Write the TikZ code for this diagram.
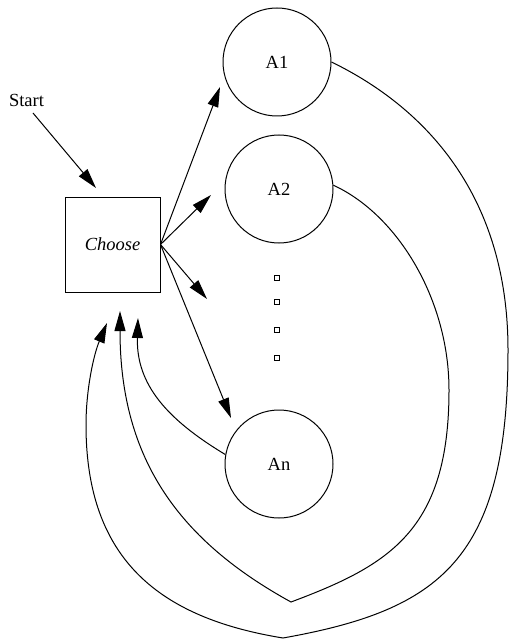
\documentclass[tikz,border=0pt]{standalone}
\usepackage{fontspec}
\setmainfont{Liberation Serif}
\usetikzlibrary{arrows.meta}
\begin{document}
\begin{tikzpicture}[x=1pt,y=-1pt,
  every node/.style={font=\fontsize{18.5}{22}\selectfont},
  arr/.style={line width=1pt, -{Triangle[length=20pt,width=11pt]}},
  state/.style={circle, draw, line width=1pt, minimum size=108pt, inner sep=0pt},
  box/.style={rectangle, draw, line width=1pt, minimum width=95pt, minimum height=95pt, inner sep=0pt},
  dot/.style={rectangle, draw, line width=1.2pt, minimum size=5pt, inner sep=0pt}]
\useasboundingbox (0,0) rectangle (508,639);

% nodes
\node (start) at (26.5,100) {Start};
\node[box] (choose) at (112.5,244.5) {\itshape Choose};
\node[state] (a1) at (277,62) {A1};
\node[state] (a2) at (279,189) {A2};
\node[state] (an) at (279,464) {An};
\node[dot] (d1) at (277,278) {};
\node[dot] (d2) at (277,302) {};
\node[dot] (d3) at (277,330) {};
\node[dot] (d4) at (277,358) {};

% free ends of the connectors
\coordinate (s0) at (33,113);
\coordinate (s1) at (96,188);
\coordinate (t1) at (220,87);
\coordinate (t2) at (211,195);
\coordinate (t3) at (207,299);
\coordinate (tn) at (231,418);
\coordinate (r1) at (508,350);
\coordinate (r2) at (449,390);
\coordinate (v1) at (283,638);
\coordinate (v2) at (291,602);
\coordinate (m1) at (86,425);
\coordinate (h1) at (107,323);
\coordinate (h2) at (120,311);
\coordinate (h3) at (138,318);

% entry and choices
\draw[arr] (s0) -- (s1);
\draw[arr] (choose.east) -- (t1);
\draw[arr] (choose.east) -- (t2);
\draw[arr] (choose.east) -- (t3);
\draw[arr] (choose.east) -- (tn);

% returns to Choose
\draw[arr] (a1.east) .. controls (430,110) and (508,200) .. (r1)
  .. controls (508,560) and (440,610) .. (v1)
  .. controls (160,618) and (86,560) .. (m1)
  .. controls (86,390) and (93.5,355) .. (h1);
\draw[arr] (a2.4) .. controls (398,215) and (449,300) .. (r2)
  .. controls (449,530) and (390,565) .. (v2)
  .. controls (181,541.5) and (120,461) .. (h2);
\draw[arr] (an.170) .. controls (168,420) and (136,385) .. (h3);
\end{tikzpicture}
\end{document}
